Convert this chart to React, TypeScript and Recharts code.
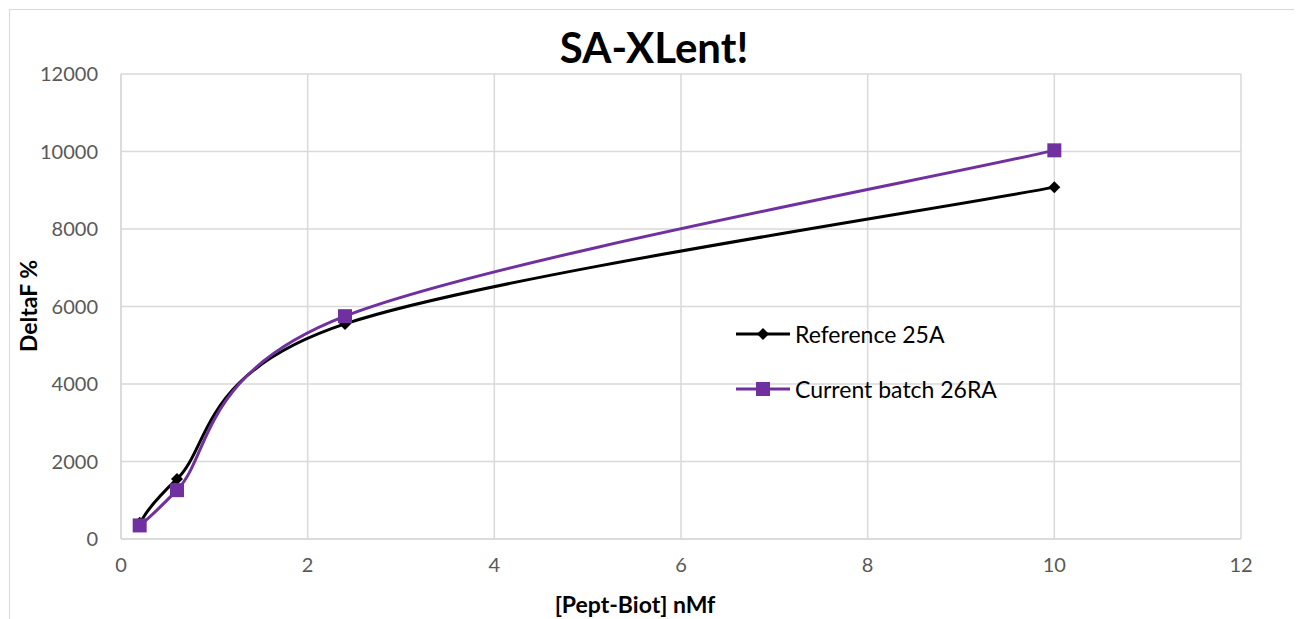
import React from 'react';
import { LineChart, Line, XAxis, YAxis, CartesianGrid } from 'recharts';

const concentrations = [0.2, 0.6, 2.4, 10];
const reference25A = [420, 1550, 5550, 9080];
const batch26RA = [350, 1260, 5750, 10030];

const xTicks = [0, 2, 4, 6, 8, 10, 12];
const yTicks = [0, 2000, 4000, 6000, 8000, 10000, 12000];

const data = concentrations.map((c, i) => ({
  conc: c,
  ref: reference25A[i],
  cur: batch26RA[i],
}));

const FONT = 'Lato, "Open Sans", sans-serif';
const PURPLE = '#7030a0';

// Excel-style smoothed line (Catmull-Rom through the points, 1/6 control arms)
const excelSmooth = (context: any) => {
  let pts: number[][] = [];
  return {
    areaStart() {},
    areaEnd() {},
    lineStart() {
      pts = [];
    },
    point(x: number, y: number) {
      pts.push([+x, +y]);
    },
    lineEnd() {
      const n = pts.length;
      if (!n) return;
      context.moveTo(pts[0][0], pts[0][1]);
      for (let i = 0; i < n - 1; i++) {
        const p0 = pts[Math.max(i - 1, 0)];
        const p1 = pts[i];
        const p2 = pts[i + 1];
        const p3 = pts[Math.min(i + 2, n - 1)];
        context.bezierCurveTo(
          p1[0] + (p2[0] - p0[0]) / 6,
          p1[1] + (p2[1] - p0[1]) / 6,
          p2[0] - (p3[0] - p1[0]) / 6,
          p2[1] - (p3[1] - p1[1]) / 6,
          p2[0],
          p2[1]
        );
      }
    },
  };
};

const Diamond = (props: any) => {
  const { cx, cy } = props;
  if (cx == null || cy == null) return null;
  const r = 6;
  return (
    <path
      d={`M${cx},${cy - r} L${cx + r},${cy} L${cx},${cy + r} L${cx - r},${cy} Z`}
      fill="#000"
    />
  );
};

const Square = (props: any) => {
  const { cx, cy } = props;
  if (cx == null || cy == null) return null;
  const s = 7;
  return <rect x={cx - s} y={cy - s} width={s * 2} height={s * 2} fill={PURPLE} />;
};

const legendItems = [
  { label: 'Reference 25A', color: '#000', square: false },
  { label: 'Current batch 26RA', color: PURPLE, square: true },
];

export default function App() {
  return (
    <div
      style={{
        width: 1288,
        height: 620,
        border: '1px solid #d9d9d9',
        marginTop: 1,
        marginLeft: 1,
        position: 'relative',
        background: '#fff',
      }}
    >
      <div
        style={{
          position: 'absolute',
          top: 12,
          left: 0,
          width: '100%',
          textAlign: 'center',
          fontFamily: FONT,
          fontWeight: 700,
          fontSize: 42,
          color: '#000',
        }}
      >
        SA-XLent!
      </div>
      <div
        style={{
          position: 'absolute',
          left: 18 - 60,
          top: 296 - 15,
          width: 120,
          height: 30,
          lineHeight: '30px',
          textAlign: 'center',
          transform: 'rotate(-90deg)',
          fontFamily: FONT,
          fontWeight: 700,
          fontSize: 23,
          color: '#000',
        }}
      >
        DeltaF %
      </div>
      <div
        style={{
          position: 'absolute',
          left: 425 - 10,
          top: 580,
          width: 420,
          textAlign: 'center',
          fontFamily: FONT,
          fontWeight: 700,
          fontSize: 23,
          color: '#000',
        }}
      >
        [Pept-Biot] nMf
      </div>
      <LineChart
        width={1288}
        height={609}
        data={data}
        margin={{ top: 64, right: 57, left: 0, bottom: 40 }}
      >
        <CartesianGrid stroke="#d9d9d9" strokeWidth={1.5} />
        <XAxis
          type="number"
          dataKey="conc"
          domain={[0, 12]}
          ticks={xTicks}
          stroke="#d9d9d9"
          strokeWidth={1.5}
          tickLine={false}
          tickMargin={13}
          height={40}
          tick={{ fill: '#595959', fontSize: 20, fontFamily: FONT }}
        />
        <YAxis
          type="number"
          domain={[0, 12000]}
          ticks={yTicks}
          width={111}
          stroke="#d9d9d9"
          strokeWidth={1.5}
          tickLine={false}
          tickMargin={17}
          tick={{ fill: '#595959', fontSize: 20, fontFamily: FONT }}
        />
        <Line
          type={excelSmooth as any}
          dataKey="ref"
          name="Reference 25A"
          stroke="#000"
          strokeWidth={3}
          dot={<Diamond />}
          activeDot={false}
          isAnimationActive={false}
        />
        <Line
          type={excelSmooth as any}
          dataKey="cur"
          name="Current batch 26RA"
          stroke={PURPLE}
          strokeWidth={3}
          dot={<Square />}
          activeDot={false}
          isAnimationActive={false}
        />
      </LineChart>
      <div
        style={{
          position: 'absolute',
          left: 725,
          top: 296,
          fontFamily: FONT,
          fontSize: 23,
          color: '#000',
        }}
      >
        {legendItems.map((item) => (
          <div key={item.label} style={{ display: 'flex', alignItems: 'center', height: 55 }}>
            <svg width={60} height={20}>
              <line x1={1} y1={10} x2={55} y2={10} stroke={item.color} strokeWidth={3} />
              {item.square ? (
                <rect x={21} y={3} width={14} height={14} fill={item.color} />
              ) : (
                <path d="M28,4 L34,10 L28,16 L22,10 Z" fill={item.color} />
              )}
            </svg>
            <span>{item.label}</span>
          </div>
        ))}
      </div>
    </div>
  );
}
